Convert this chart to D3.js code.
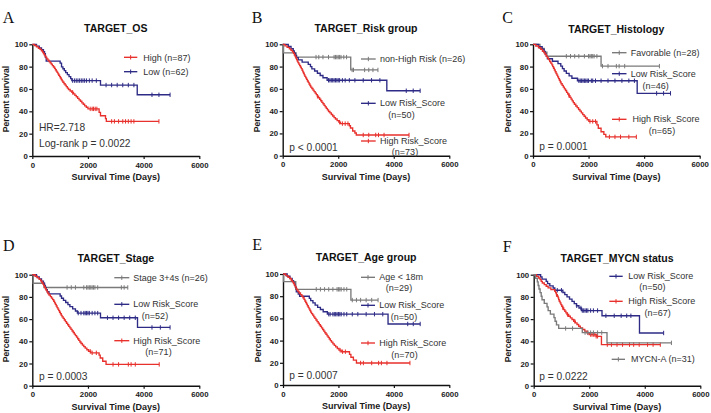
<!DOCTYPE html>
<html><head><meta charset="utf-8">
<script src="https://cdn.jsdelivr.net/npm/d3@7"></script>
<style>html,body{margin:0;padding:0;background:#fff;} svg{display:block;}</style>
</head><body>
<svg id="chart" width="711" height="413"></svg>
<script>
// ================= DATA =================
const xTicks = [0, 2000, 4000, 6000];
const yTicks = [0, 20, 40, 60, 80, 100];
const panelLetters = ["A", "B", "C", "D", "E", "F"];
const panelTitles = ["TARGET_OS", "TARGET_Risk group", "TARGET_Histology", "TARGET_Stage", "TARGET_Age group", "TARGET_MYCN status"];
const statTexts = [["HR=2.718", "Log-rank p = 0.0022"], ["p < 0.0001"], ["p = 0.0001"], ["p = 0.0003"], ["p = 0.0007"], ["p = 0.0222"]];
const xAxisTitle = "Survival Time (Days)";
const yAxisTitle = "Percent survival";

// Panel A
const A_highSteps = [[0,100],[80,98.9],[150,97.7],[220,96.5],[280,95.4],[330,94.2],[370,93],[400,91.8],[430,90.6],[460,89.4],[490,88.2],[520,87],[560,85.8],[600,84.6],[640,83.4],[680,82.2],[720,80.9],[760,79.7],[800,78.5],[830,77.2],[860,76],[890,74.8],[920,73.5],[950,72.3],[980,71],[1010,69.8],[1040,68.5],[1070,67.2],[1100,66],[1140,64.7],[1180,63.4],[1220,62.1],[1260,60.8],[1300,59.5],[1360,58.2],[1420,56.9],[1480,55.6],[1530,54.3],[1580,53],[1630,51.6],[1680,50.3],[1730,49],[1780,47.6],[1830,46.3],[1880,44.9],[1940,43.6],[2000,42.2],[2400,39],[2450,36],[2630,33.5],[2660,31]];
const A_highCensor = [1450,2080,2150,2200,2260,2320,2850,2950,3100,3250,3350,3450,3550,3650,4550];
const A_highEnd = 4550;
const A_lowSteps = [[0,100],[150,98.4],[250,96.8],[330,95.1],[400,93.4],[440,91.7],[470,88.3],[500,84.9],[1000,83.2],[1050,79.8],[1100,78.1],[1150,76.4],[1200,74.7],[1260,72.9],[1320,71.1],[1380,69.3],[1420,67.5],[2450,63.5],[3770,54.8]];
const A_lowCensor = [1450,1520,1580,1640,1700,1760,1820,1880,1950,2050,2150,2300,2650,2850,3050,3250,3450,3650,4300,4550,4950];
const A_lowEnd = 4950;

// Panel B
const B_nonHighSteps = [[0,100],[30,92.3],[480,88.5],[2450,77]];
const B_nonHighCensor = [1200,1300,1450,1650,1850,1900,1950,2000,2050,2100,2200,2300,2500,2550,2950,3100,3250,3430];
const B_nonHighEnd = 3430;
const B_lowSteps = [[0,100],[200,98],[300,96],[380,94],[420,92],[460,90],[500,88],[560,86],[700,84],[920,82],[1000,80],[1050,78],[1150,76],[1250,74],[1350,72],[1450,70],[1600,67.7],[3750,58.3]];
const B_lowCensor = [1650,1700,1750,1800,1850,1900,1950,2000,2050,2150,2250,2400,2600,2900,3200,3500,4450,4700,4950];
const B_lowEnd = 4950;
const B_highSteps = [[0,100],[80,98.6],[160,97.3],[240,95.9],[300,94.5],[350,93.2],[390,91.8],[420,90.4],[450,89],[475,87.7],[500,86.3],[525,84.9],[550,83.6],[580,82.2],[610,80.8],[640,79.5],[670,78.1],[700,76.7],[725,75.3],[750,74],[775,72.6],[800,71.2],[830,69.9],[860,68.5],[890,67.1],[920,65.8],[950,64.4],[980,63],[1010,61.6],[1050,60.3],[1090,58.9],[1130,57.5],[1170,56.2],[1210,54.8],[1250,53.4],[1290,52],[1330,50.7],[1370,49.3],[1410,47.9],[1450,46.6],[1490,45.2],[1530,43.8],[1570,42.5],[1610,41.1],[1650,39.7],[1700,38.4],[1750,37],[1800,35.6],[1850,34.2],[1900,32.9],[1960,31.5],[2020,30.1],[2080,28.8],[2400,26.9],[2440,24.9],[2520,22.2],[2600,20.4],[2650,18.6]];
const B_highCensor = [1250,2050,2150,2250,2350,2900,3100,3350,3450,3650,4550];
const B_highEnd = 4550;

// Panel C
const C_favSteps = [[0,100],[250,96.4],[400,92.9],[500,89.3],[2450,80.4]];
const C_favCensor = [1200,1350,1500,1650,1850,2000,2050,2100,2150,2200,2300,2500,2700,3000,3100,3300,4550];
const C_favEnd = 4550;
const C_lowSteps = [[0,100],[200,97.8],[330,95.7],[400,93.5],[440,91.3],[480,89.1],[520,87],[700,84.8],[900,82.6],[1000,80.4],[1060,78.2],[1120,76],[1200,73.9],[1300,71.7],[1400,69.5],[1600,67.3],[3750,56]];
const C_lowCensor = [1650,1700,1750,1800,1850,1900,1950,2000,2100,2150,2250,2450,2700,2950,3200,3450,3650,4450,4700,4950];
const C_lowEnd = 4950;
const C_highSteps = [[0,100],[100,98.5],[200,96.9],[280,95.4],[340,93.8],[400,92.3],[440,90.8],[480,89.2],[520,87.7],[560,86.2],[600,84.6],[640,83.1],[680,81.5],[710,80],[740,78.5],[770,76.9],[800,75.4],[830,73.8],[860,72.3],[890,70.8],[920,69.2],[950,67.7],[980,66.2],[1010,64.6],[1050,63.1],[1090,61.5],[1130,60],[1170,58.5],[1210,56.9],[1250,55.4],[1290,53.8],[1330,52.3],[1370,50.8],[1410,49.2],[1450,47.7],[1490,46.2],[1540,44.6],[1590,43.1],[1640,41.5],[1690,40],[1740,38.5],[1790,36.9],[1840,35.4],[1890,33.8],[1950,32.3],[2010,30.8],[2300,27.7],[2350,24.6],[2450,21.5],[2550,19.2],[2620,16.9]];
const C_highCensor = [1300,2050,2150,2250,2750,2950,3150,3450,3720];
const C_highEnd = 3720;

// Panel D
const D_stageSteps = [[0,100],[30,92.3],[420,88.5]];
const D_stageCensor = [1250,1400,1550,1850,1950,2000,2050,2100,2150,2200,2250,2350,3200,3300,3430];
const D_stageEnd = 3430;
const D_lowSteps = [[0,100],[150,98.1],[250,96.2],[330,94.2],[400,92.3],[440,90.4],[470,88.5],[500,86.5],[540,84.6],[600,82.7],[1000,80.8],[1050,78.8],[1120,76.9],[1200,75],[1280,73.1],[1350,71.2],[1450,69.2],[1550,67.3],[1620,65.4],[2450,61.2],[3780,52.5]];
const D_lowCensor = [1650,1750,1850,1900,1950,2000,2050,2150,2250,2350,2700,2900,3100,3300,3500,3700,4300,4600,4950];
const D_lowEnd = 4950;
const D_highSteps = [[0,100],[100,98.6],[180,97.2],[250,95.8],[300,94.4],[340,93],[380,91.5],[410,90.1],[440,88.7],[470,87.3],[500,85.9],[530,84.5],[560,83.1],[600,81.7],[650,80.3],[690,78.9],[730,77.5],[770,76.1],[800,74.6],[830,73.2],[860,71.8],[890,70.4],[920,69],[950,67.6],[980,66.2],[1010,64.8],[1040,63.4],[1070,62],[1110,60.6],[1150,59.2],[1190,57.7],[1230,56.3],[1270,54.9],[1310,53.5],[1350,52.1],[1390,50.7],[1430,49.3],[1470,47.9],[1510,46.5],[1550,45.1],[1590,43.7],[1630,42.3],[1670,40.8],[1710,39.4],[1750,38],[1800,36.6],[1850,35.2],[1900,33.8],[1960,32.4],[2020,31],[2100,29.6],[2400,27.5],[2440,25],[2530,22],[2650,19.2]];
const D_highCensor = [2080,2150,2300,2900,3100,3450,3550,3700,4560];
const D_highEnd = 4560;

// Panel E
const E_ageSteps = [[0,100],[20,93.1],[460,86.2],[2450,76.5]];
const E_ageCensor = [1200,1350,1500,1650,1800,1950,2000,2050,2100,2200,2300,2500,2650,2800,3000,3200,3430];
const E_ageEnd = 3430;
const E_lowSteps = [[0,100],[150,98],[250,96],[330,94],[380,92],[420,90],[450,88],[480,84],[550,82],[600,80],[950,78],[1000,76],[1080,74],[1160,72],[1250,70],[1350,68],[1450,66],[1600,63.8],[3790,55]];
const E_lowCensor = [1650,1700,1800,1850,1900,1950,2000,2050,2100,2200,2300,2500,2700,3000,3300,3600,4500,4700,4950];
const E_lowEnd = 4950;
const E_highSteps = [[0,100],[100,98.6],[180,97.1],[250,95.7],[300,94.3],[340,92.9],[380,91.4],[410,90],[440,88.6],[470,87.1],[500,85.7],[540,84.3],[580,82.9],[630,81.4],[680,80],[720,78.6],[760,77.1],[790,75.7],[820,74.3],[850,72.9],[880,71.4],[910,70],[940,68.6],[970,67.1],[1000,65.7],[1030,64.3],[1070,62.9],[1110,61.4],[1150,60],[1190,58.6],[1230,57.1],[1270,55.7],[1310,54.3],[1350,52.9],[1390,51.4],[1430,50],[1470,48.6],[1510,47.1],[1550,45.7],[1590,44.3],[1630,42.9],[1670,41.4],[1710,40],[1750,38.6],[1800,37.1],[1850,35.7],[1900,34.3],[1960,32.9],[2020,31.4],[2100,30],[2400,27.6],[2450,25],[2540,22.4],[2650,19.8]];
const E_highCensor = [2060,2150,2250,2800,2900,3200,3450,3550,3750,4580];
const E_highEnd = 4580;

// Panel F
const F_lowSteps = [[0,100],[250,98],[300,96],[450,94],[500,92],[580,90],[700,88],[760,86],[1050,84],[1120,82],[1200,80],[1290,78],[1380,76],[1460,74],[1540,72],[1630,70],[1720,67.7],[2460,63],[3810,47.5]];
const F_lowCensor = [850,1000,1550,1700,1750,1800,1850,1900,1950,2050,2150,2300,2600,2900,3150,3350,3500,4680];
const F_lowEnd = 4680;
const F_highSteps = [[0,100],[100,98.5],[180,97],[230,95.5],[270,94],[310,92.5],[380,91],[450,89.6],[520,88.1],[620,86.6],[760,85.1],[790,83.6],[820,82.1],[850,80.6],[880,79.1],[900,77.6],[920,76.1],[950,74.6],[980,73.1],[1010,71.6],[1040,70.1],[1080,68.6],[1120,67.1],[1160,65.6],[1200,64.1],[1260,62.6],[1320,61.1],[1380,59.6],[1440,58.1],[1500,56.6],[1560,55.1],[1620,53.6],[1680,52.1],[1760,50.6],[1840,49.1],[1920,47.6],[2000,46.1],[2250,44.5],[2440,37]];
const F_highCensor = [820,1050,1220,1480,1950,2050,2100,2150,2200,2250,2300,2650,2800,3000,3200,3450,3600,3800,4100,4300,4560];
const F_highEnd = 4560;
const F_mycnSteps = [[0,100],[60,96.8],[130,93.5],[160,90.3],[190,87.1],[230,83.9],[270,80.6],[300,77.4],[380,74.2],[480,71],[520,67.7],[600,64.5],[730,61.3],[770,58.1],[820,54.8],[900,51.6],[1750,47.8],[2640,38.6]];
const F_mycnCensor = [1150,1400,1850,1950,2050,2150,2300,2450,4960];
const F_mycnEnd = 4960;

// ================= STYLE / LAYOUT =================
const COL = {red: "#e8302c", blue: "#2d2b85", grey: "#7a7a7a"};
const FONT = "Arial, 'Liberation Sans', Helvetica, sans-serif";

const series = [
  [ {steps:A_lowSteps, censor:A_lowCensor, end:A_lowEnd, color:COL.blue},
    {steps:A_highSteps, censor:A_highCensor, end:A_highEnd, color:COL.red} ],
  [ {steps:B_nonHighSteps, censor:B_nonHighCensor, end:B_nonHighEnd, color:COL.grey},
    {steps:B_lowSteps, censor:B_lowCensor, end:B_lowEnd, color:COL.blue},
    {steps:B_highSteps, censor:B_highCensor, end:B_highEnd, color:COL.red} ],
  [ {steps:C_favSteps, censor:C_favCensor, end:C_favEnd, color:COL.grey},
    {steps:C_lowSteps, censor:C_lowCensor, end:C_lowEnd, color:COL.blue},
    {steps:C_highSteps, censor:C_highCensor, end:C_highEnd, color:COL.red} ],
  [ {steps:D_stageSteps, censor:D_stageCensor, end:D_stageEnd, color:COL.grey},
    {steps:D_lowSteps, censor:D_lowCensor, end:D_lowEnd, color:COL.blue},
    {steps:D_highSteps, censor:D_highCensor, end:D_highEnd, color:COL.red} ],
  [ {steps:E_ageSteps, censor:E_ageCensor, end:E_ageEnd, color:COL.grey},
    {steps:E_lowSteps, censor:E_lowCensor, end:E_lowEnd, color:COL.blue},
    {steps:E_highSteps, censor:E_highCensor, end:E_highEnd, color:COL.red} ],
  [ {steps:F_lowSteps, censor:F_lowCensor, end:F_lowEnd, color:COL.blue},
    {steps:F_highSteps, censor:F_highCensor, end:F_highEnd, color:COL.red},
    {steps:F_mycnSteps, censor:F_mycnCensor, end:F_mycnEnd, color:COL.grey} ]
];

const legends = [
  [ {color:COL.red, ly:57.3, lx:[124,137.3], texts:[["High (n=87)",143.3,60.5,"start"]]},
    {color:COL.blue, ly:71.7, lx:[124,137.3], texts:[["Low (n=62)",143.3,75,"start"]]} ],
  [ {color:COL.grey, ly:59, lx:[361,375.7], texts:[["non-High Risk (n=26)",380,62,"start"]]},
    {color:COL.blue, ly:103.3, lx:[361,375.7], texts:[["Low Risk_Score",380,106.3,"start"],["(n=50)",401.5,117.5,"middle"]]},
    {color:COL.red, ly:141, lx:[361,375.7], texts:[["High Risk_Score",380,144,"start"],["(n=73)",405,154.5,"middle"]]} ],
  [ {color:COL.grey, ly:52.7, lx:[612,626.5], texts:[["Favorable (n=28)",630.7,55.7,"start"]]},
    {color:COL.blue, ly:73.7, lx:[612,626.5], texts:[["Low Risk_Score",630.7,76.7,"start"],["(n=46)",655.7,88.5,"middle"]]},
    {color:COL.red, ly:119.3, lx:[612,626.5], texts:[["High Risk_Score",632.5,122.3,"start"],["(n=65)",662,134,"middle"]]} ],
  [ {color:COL.grey, ly:277.7, lx:[114.3,129.3], texts:[["Stage 3+4s (n=26)",133.3,280.7,"start"]]},
    {color:COL.blue, ly:304.3, lx:[114.3,129.3], texts:[["Low Risk_Score",133.3,307.3,"start"],["(n=52)",155,318.5,"middle"]]},
    {color:COL.red, ly:340.7, lx:[114.3,129.3], texts:[["High Risk_Score",133.3,343.7,"start"],["(n=71)",158.5,355,"middle"]]} ],
  [ {color:COL.grey, ly:277.3, lx:[361,375], texts:[["Age < 18m",379.3,280.3,"start"],["(n=29)",399,290.7,"middle"]]},
    {color:COL.blue, ly:305.3, lx:[361,375], texts:[["Low Risk_Score",379.3,308.3,"start"],["(n=50)",404,320,"middle"]]},
    {color:COL.red, ly:343, lx:[361,375], texts:[["High Risk_Score",379.3,346,"start"],["(n=70)",404.5,358,"middle"]]} ],
  [ {color:COL.blue, ly:276.3, lx:[609.3,622.7], texts:[["Low Risk_Score",628.3,279.3,"start"],["(n=50)",652.3,289.7,"middle"]]},
    {color:COL.red, ly:301.3, lx:[609.3,622.7], texts:[["High Risk_Score",628.3,304.3,"start"],["(n=67)",657.7,316,"middle"]]},
    {color:COL.grey, ly:359.3, lx:[611.7,625], texts:[["MYCN-A (n=31)",631,362.3,"start"]]} ]
];

const layout = [
  {x0:32.3, x1:199.3, yT:44.3, yB:156, letter:[2.7,22.7], titleY:32.3, xlabY:180, ylabX:9, ylabY:99, stats:[[39,131],[39,147.3]]},
  {x0:282.7, x1:449.3, yT:44.3, yB:155.7, letter:[251.7,22.7], titleY:32.3, xlabY:180, ylabX:260, ylabY:99, stats:[[289.3,150.5]]},
  {x0:533, x1:699.7, yT:44.3, yB:155.7, letter:[502.3,22.7], titleY:32.5, xlabY:180, ylabX:510.5, ylabY:99, stats:[[539.3,150]]},
  {x0:32.3, x1:199.3, yT:274.7, yB:385.7, letter:[3,251], titleY:262.3, xlabY:409.7, ylabX:9, ylabY:329, stats:[[39,380]]},
  {x0:283, x1:449.3, yT:274, yB:385, letter:[252.3,250.3], titleY:261.3, xlabY:409, ylabX:260.5, ylabY:329, stats:[[289.3,379]]},
  {x0:533.7, x1:700.3, yT:274.7, yB:385.7, letter:[502.7,251.7], titleY:261.7, xlabY:409.7, ylabX:511, ylabY:329, stats:[[539.3,380]]}
];

// ================= DRAW =================
const svg = d3.select("#chart");
svg.append("rect").attr("width", 711).attr("height", 413).attr("fill", "#fff");

function survAt(steps, t) {
  let s = 100;
  for (const [tt, ss] of steps) if (tt <= t) s = ss;
  return s;
}

layout.forEach((L, i) => {
  const g = svg.append("g");
  const x = d3.scaleLinear().domain([0, 6000]).range([L.x0, L.x1]);
  const y = d3.scaleLinear().domain([0, 100]).range([L.yB, L.yT]);

  g.append("text").attr("x", L.letter[0]).attr("y", L.letter[1])
    .attr("font-family", "'Liberation Serif','Times New Roman',serif").attr("font-size", 16)
    .attr("fill", "#111").text(panelLetters[i]);
  g.append("text").attr("x", (L.x0 + L.x1) / 2).attr("y", L.titleY).attr("text-anchor", "middle")
    .attr("font-family", FONT).attr("font-weight", "bold").attr("font-size", 10.5)
    .attr("fill", "#111").text(panelTitles[i]);

  const yAxis = d3.axisLeft(y).tickValues(yTicks).tickFormat(d3.format("d")).tickSize(3).tickSizeOuter(0).tickPadding(1.5);
  const xAxis = d3.axisBottom(x).tickValues(xTicks).tickFormat(d3.format("d")).tickSize(3).tickSizeOuter(0).tickPadding(3);
  const ga = g.append("g").attr("transform", `translate(${L.x0},0)`).call(yAxis);
  const gb = g.append("g").attr("transform", `translate(0,${L.yB})`).call(xAxis);
  [ga, gb].forEach(a => {
    a.select(".domain").attr("stroke", "#111").attr("stroke-width", 1.4);
    a.selectAll(".tick line").attr("stroke", "#111").attr("stroke-width", 1.2);
    a.selectAll(".tick text").attr("font-family", FONT).attr("font-weight", "bold")
      .attr("font-size", 7.8).attr("fill", "#1a1a1a");
  });

  g.append("text").attr("x", (L.x0 + L.x1) / 2).attr("y", L.xlabY).attr("text-anchor", "middle")
    .attr("font-family", FONT).attr("font-weight", "bold").attr("font-size", 9)
    .attr("fill", "#1a1a1a").text(xAxisTitle);
  g.append("text").attr("transform", `translate(${L.ylabX},${L.ylabY}) rotate(-90)`)
    .attr("text-anchor", "middle")
    .attr("font-family", FONT).attr("font-weight", "bold").attr("font-size", 8.6)
    .attr("fill", "#1a1a1a").text(yAxisTitle);

  const line = d3.line().x(d => x(d[0])).y(d => y(d[1])).curve(d3.curveStepAfter);
  series[i].forEach(s => {
    const pts = s.steps.concat([[s.end, s.steps[s.steps.length - 1][1]]]);
    g.append("path").attr("d", line(pts)).attr("fill", "none")
      .attr("stroke", s.color).attr("stroke-width", 1.35);
    g.selectAll(null).data(s.censor).enter().append("line")
      .attr("x1", d => x(d)).attr("x2", d => x(d))
      .attr("y1", d => y(survAt(s.steps, d)) - 2.2)
      .attr("y2", d => y(survAt(s.steps, d)) + 2.2)
      .attr("stroke", s.color).attr("stroke-width", 1);
  });

  legends[i].forEach(e => {
    g.append("line").attr("x1", e.lx[0]).attr("x2", e.lx[1]).attr("y1", e.ly).attr("y2", e.ly)
      .attr("stroke", e.color).attr("stroke-width", 1.35);
    const mx = (e.lx[0] + e.lx[1]) / 2;
    g.append("line").attr("x1", mx).attr("x2", mx).attr("y1", e.ly - 2.2).attr("y2", e.ly + 2.2)
      .attr("stroke", e.color).attr("stroke-width", 1);
    e.texts.forEach(t => {
      g.append("text").attr("x", t[1]).attr("y", t[2]).attr("text-anchor", t[3])
        .attr("font-family", FONT).attr("font-size", 9).attr("fill", "#333").text(t[0]);
    });
  });

  statTexts[i].forEach((t, k) => {
    g.append("text").attr("x", L.stats[k][0]).attr("y", L.stats[k][1])
      .attr("font-family", FONT).attr("font-size", 10.2).attr("fill", "#333").text(t);
  });
});
</script>
</body></html>
